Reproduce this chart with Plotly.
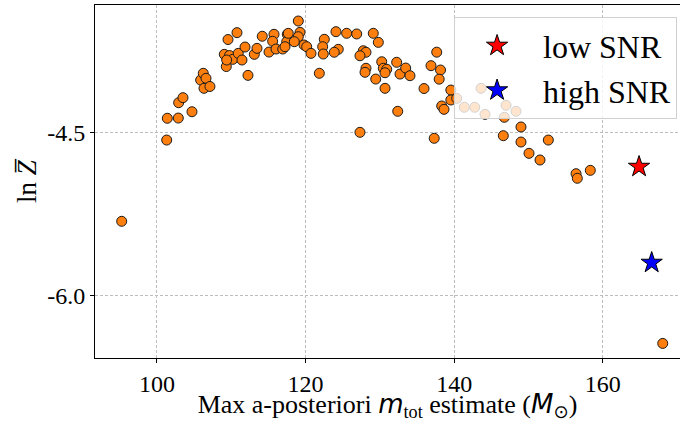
import plotly.graph_objects as go

# Max a-posteriori total mass estimates (solar masses) and ln Z-bar values
mass = [95.25, 101.31, 101.39, 102.87, 104.71, 102.92, 103.50, 105.88, 106.23, 106.60,
        106.33, 107.13, 109.56, 110.77, 109.06, 109.76, 110.19, 109.33, 109.38, 110.94,
        111.44, 111.85, 112.25, 113.10, 113.46, 114.17, 115.75, 115.57, 115.08, 116.02,
        116.92, 117.54, 117.46, 117.23, 119.02, 117.67, 119.25, 119.02, 118.48,
        119.79, 120.15, 120.73, 121.85, 122.52, 122.30, 122.38, 124.09, 125.53, 126.88,
        124.40, 123.86, 129.11, 129.79, 127.77, 128.13, 127.32, 128.13, 128.00, 129.44,
        130.25, 130.46, 130.92, 130.69, 130.69, 132.26, 132.71, 133.47, 134.05, 132.40,
        127.32, 135.94, 137.65, 136.88, 138.16, 137.98, 137.31, 138.32, 138.63, 139.55,
        139.55, 140.34, 141.36, 142.76, 143.61, 144.15, 146.98, 146.75, 148.32, 148.99,
        146.61, 148.99, 152.67, 150.07, 151.55, 156.40, 156.57, 158.32, 168.07]
lnz = [-5.317, -4.571, -4.371, -4.369, -4.311, -4.228, -4.182, -4.020, -3.958, -4.004,
       -4.096, -4.079, -3.648, -3.585, -3.784, -3.795, -3.830, -3.896, -3.836, -3.775,
       -3.836, -3.717, -3.977, -3.784, -3.729, -3.618, -3.600, -3.664, -3.763, -3.735,
       -3.735, -3.600, -3.668, -3.714, -3.478, -3.591, -3.582, -3.622, -3.668,
       -3.698, -3.714, -3.775, -3.958, -3.646, -3.714, -3.781, -3.576, -3.591, -3.597,
       -3.738, -3.765, -3.591, -3.674, -3.751, -3.765, -3.797, -3.912, -3.949, -4.011,
       -3.852, -3.912, -3.921, -3.953, -4.096, -3.857, -3.965, -3.910, -3.980, -4.307,
       -4.500, -4.098, -3.764, -3.888, -3.928, -4.012, -4.555, -4.258, -4.289, -4.112,
       -4.203, -4.188, -4.270, -4.270, -4.096, -4.335, -4.252, -4.362, -4.307, -4.451,
       -4.531, -4.589, -4.571, -4.693, -4.754, -4.880, -4.922, -4.849, -6.438]

low_snr_mass = [164.88]
low_snr_lnz = [-4.816]
high_snr_mass = [166.58]
high_snr_lnz = [-5.697]

x_ticks = [100, 120, 140, 160]
y_ticks = [-4.5, -6.0]
y_ticktext = ["-4.5", "-6.0"]

SERIF = "Liberation Serif, Times New Roman, serif"
GRID = "#bdbdbd"

fig = go.Figure()
fig.add_trace(go.Scatter(
    x=mass, y=lnz, mode="markers", showlegend=False,
    marker=dict(color="#ff7f0e", size=10, line=dict(color="#1a1a1a", width=1)),
))
fig.add_trace(go.Scatter(
    x=low_snr_mass, y=low_snr_lnz, mode="markers", name="low SNR",
    marker=dict(symbol="star", color="red", size=16, line=dict(color="black", width=1)),
))
fig.add_trace(go.Scatter(
    x=high_snr_mass, y=high_snr_lnz, mode="markers", name="high SNR",
    marker=dict(symbol="star", color="blue", size=16, line=dict(color="black", width=1)),
))

fig.update_layout(
    width=680, height=422,
    margin=dict(l=95, r=0, t=5, b=64),
    paper_bgcolor="white", plot_bgcolor="white",
    font=dict(family=SERIF, size=24, color="black"),
    legend=dict(
        x=0.995, y=0.965, xanchor="right", yanchor="top",
        bgcolor="rgba(255,255,255,0.8)", bordercolor="#d0d0d0", borderwidth=1,
        font=dict(family=SERIF, size=32, color="black"),
        itemwidth=82, indentation=-4, tracegroupgap=0,
    ),
)
fig.update_xaxes(
    range=[91.66, 170.39], tickvals=x_ticks,
    showline=True, linecolor="black", linewidth=1, mirror=True,
    ticks="outside", ticklen=4, tickcolor="black",
    showgrid=True, gridcolor=GRID, griddash="3px,2px", gridwidth=0.8,
    zeroline=False,
    tickfont=dict(family=SERIF, size=24),
    title=dict(
        text="Max a-posteriori <span style='font-family:DejaVu Sans'><i>m</i></span><sub>tot</sub> estimate (<span style='font-family:DejaVu Sans'><i>M</i><sub>⊙</sub></span>)",
        font=dict(family=SERIF, size=26), standoff=2,
    ),
)
fig.update_yaxes(
    range=[-6.572, -3.331], tickvals=y_ticks, ticktext=y_ticktext,
    showline=True, linecolor="black", linewidth=1, mirror=False,
    ticks="outside", ticklen=4, tickcolor="black",
    showgrid=True, gridcolor=GRID, griddash="3px,2px", gridwidth=0.8,
    zeroline=False,
    tickfont=dict(family=SERIF, size=24),
    title=dict(text="ln <i>Z̅</i>", font=dict(family=SERIF, size=27), standoff=2),
)

fig.write_html("out.html", config={"displayModeBar": False},
               post_script="document.body.style.margin='0';")
